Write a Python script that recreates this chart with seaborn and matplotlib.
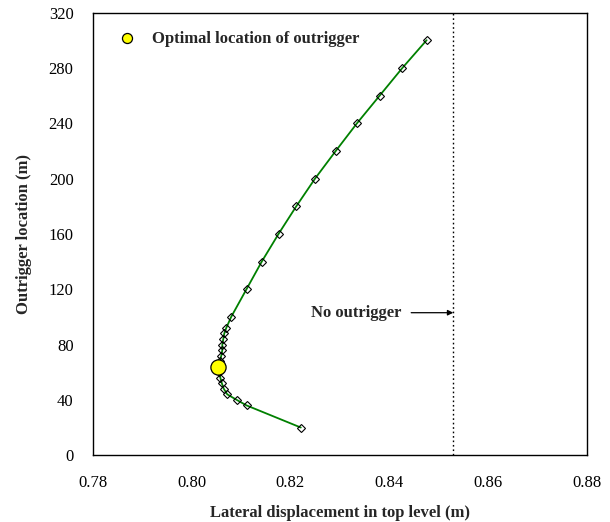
import matplotlib
matplotlib.use("Agg")
import matplotlib.pyplot as plt
import seaborn as sns
import pandas as pd

# Data
outrigger_loc = [20, 36, 40, 44, 48, 52, 56, 60, 64, 68, 72, 76, 80, 84, 88, 92,
                 100, 120, 140, 160, 180, 200, 220, 240, 260, 280, 300]
lateral_disp = [0.8221, 0.8111, 0.8091, 0.8072, 0.8065, 0.8061, 0.8058, 0.8055, 0.8054,
                0.8057, 0.8060, 0.8062, 0.8062, 0.8064, 0.8066, 0.8070,
                0.8080, 0.8111, 0.8142, 0.8176, 0.8212, 0.8250, 0.8292, 0.8335,
                0.8381, 0.8427, 0.8476]
optimal_loc = [64]
optimal_disp = [0.8054]
no_outrigger_disp = 0.853

x_ticks = [0.78, 0.80, 0.82, 0.84, 0.86, 0.88]
y_ticks = [0, 40, 80, 120, 160, 200, 240, 280, 320]

sns.set_style("white")
plt.rcParams['font.family'] = ['Liberation Serif', 'DejaVu Serif']

df = pd.DataFrame({"disp": lateral_disp, "loc": outrigger_loc})
opt = pd.DataFrame({"disp": optimal_disp, "loc": optimal_loc})

fig = plt.figure(figsize=(6.1, 5.22), dpi=100)
ax = fig.add_axes([0.1525, 0.128, 0.809, 0.848])

sns.lineplot(data=df, x="disp", y="loc", sort=False, estimator=None, ax=ax,
             color="green", linewidth=1.3, marker="D", markersize=4.5,
             markerfacecolor="none", markeredgecolor="black", markeredgewidth=0.8,
             zorder=3)

sns.scatterplot(data=opt, x="disp", y="loc", ax=ax, s=120, color="#ffff00",
                edgecolor="black", linewidth=0.9, zorder=4,
                label="Optimal location of outrigger")

ax.axvline(no_outrigger_disp, color="black", linestyle=(0, (1.2, 2.0)), linewidth=1.0, zorder=2)
ax.annotate("No outrigger", xy=(no_outrigger_disp, 103), xytext=(0.8424, 103),
            ha="right", va="center", fontsize=12, fontweight="bold",
            arrowprops=dict(arrowstyle="-|>", color="black", lw=0.9,
                            mutation_scale=8, shrinkA=5, shrinkB=0))

ax.set_xlim(0.78, 0.88)
ax.set_ylim(0, 320)
ax.set_xticks(x_ticks)
ax.set_xticklabels([f"{v:.2f}" for v in x_ticks])
ax.set_yticks(y_ticks)
ax.tick_params(axis="both", direction="in", length=4, width=0.8, labelsize=12,
               color="black", labelcolor="black")
ax.tick_params(axis="x", pad=14)
ax.tick_params(axis="y", pad=14)
for s in ax.spines.values():
    s.set_color("black")
    s.set_linewidth(1.0)

ax.set_xlabel("Lateral displacement in top level (m)", fontsize=12, fontweight="bold", labelpad=10)
ax.set_ylabel("Outrigger location (m)", fontsize=12, fontweight="bold", labelpad=12)

leg = ax.legend(loc="upper left", frameon=False, fontsize=12, handlelength=1.0,
                handletextpad=1.0, markerscale=0.66, bbox_to_anchor=(0.038, 0.974),
                borderaxespad=0.0)
for t in leg.get_texts():
    t.set_fontweight("bold")

fig.savefig("out.png", dpi=100)
